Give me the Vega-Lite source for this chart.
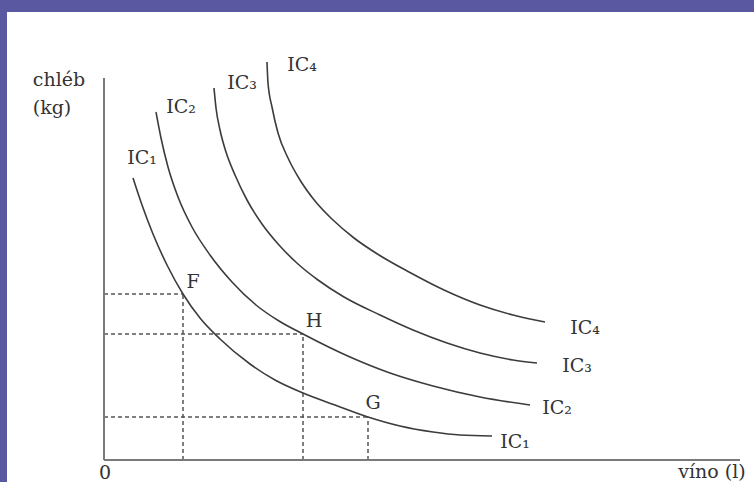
{
  "$schema": "https://vega.github.io/schema/vega-lite/v6.json",
  "width": 747,
  "height": 470,
  "autosize": "none",
  "padding": {"left": 7, "top": 12, "right": 0, "bottom": 0},
  "background": "#5a58a0",
  "config": {"view": {"fill": "#ffffff", "stroke": null}, "axis": {"disable": true}},
  "datasets": {
    "axes": [
      {"x": 0, "y": 0, "x2": 636, "y2": 0},
      {"x": 0, "y": 0, "x2": 0, "y2": 382}
    ],
    "guides": [
      {"point": "F", "x": 0, "y": 166, "x2": 79, "y2": 166},
      {"point": "F", "x": 79, "y": 0, "x2": 79, "y2": 166},
      {"point": "H", "x": 0, "y": 126, "x2": 199, "y2": 126},
      {"point": "H", "x": 199, "y": 0, "x2": 199, "y2": 126},
      {"point": "G", "x": 0, "y": 43, "x2": 264, "y2": 43},
      {"point": "G", "x": 264, "y": 0, "x2": 264, "y2": 43}
    ],
    "curves": [
      {"curve": "IC1", "x": 29, "y": 282}, {"curve": "IC1", "x": 38, "y": 255}, {"curve": "IC1", "x": 49, "y": 226},
      {"curve": "IC1", "x": 63, "y": 195}, {"curve": "IC1", "x": 79, "y": 166}, {"curve": "IC1", "x": 96, "y": 142},
      {"curve": "IC1", "x": 116, "y": 121}, {"curve": "IC1", "x": 146, "y": 96}, {"curve": "IC1", "x": 171, "y": 80},
      {"curve": "IC1", "x": 199, "y": 67}, {"curve": "IC1", "x": 231, "y": 55}, {"curve": "IC1", "x": 264, "y": 43},
      {"curve": "IC1", "x": 296, "y": 34}, {"curve": "IC1", "x": 329, "y": 28}, {"curve": "IC1", "x": 356, "y": 25},
      {"curve": "IC1", "x": 388, "y": 24},
      {"curve": "IC2", "x": 52, "y": 348}, {"curve": "IC2", "x": 57, "y": 322}, {"curve": "IC2", "x": 64, "y": 293},
      {"curve": "IC2", "x": 74, "y": 263}, {"curve": "IC2", "x": 88, "y": 233}, {"curve": "IC2", "x": 106, "y": 205},
      {"curve": "IC2", "x": 128, "y": 178}, {"curve": "IC2", "x": 152, "y": 155}, {"curve": "IC2", "x": 175, "y": 139},
      {"curve": "IC2", "x": 199, "y": 126}, {"curve": "IC2", "x": 246, "y": 103}, {"curve": "IC2", "x": 286, "y": 87},
      {"curve": "IC2", "x": 329, "y": 74}, {"curve": "IC2", "x": 376, "y": 63}, {"curve": "IC2", "x": 426, "y": 55},
      {"curve": "IC3", "x": 110, "y": 372}, {"curve": "IC3", "x": 112, "y": 352}, {"curve": "IC3", "x": 116, "y": 330},
      {"curve": "IC3", "x": 122, "y": 308}, {"curve": "IC3", "x": 131, "y": 285}, {"curve": "IC3", "x": 143, "y": 260},
      {"curve": "IC3", "x": 158, "y": 236}, {"curve": "IC3", "x": 175, "y": 215}, {"curve": "IC3", "x": 194, "y": 196},
      {"curve": "IC3", "x": 214, "y": 180}, {"curve": "IC3", "x": 240, "y": 163}, {"curve": "IC3", "x": 276, "y": 145},
      {"curve": "IC3", "x": 309, "y": 130}, {"curve": "IC3", "x": 343, "y": 117}, {"curve": "IC3", "x": 376, "y": 107},
      {"curve": "IC3", "x": 409, "y": 100}, {"curve": "IC3", "x": 433, "y": 97},
      {"curve": "IC4", "x": 163, "y": 398}, {"curve": "IC4", "x": 164, "y": 377}, {"curve": "IC4", "x": 168, "y": 353},
      {"curve": "IC4", "x": 174, "y": 327}, {"curve": "IC4", "x": 184, "y": 302}, {"curve": "IC4", "x": 196, "y": 280},
      {"curve": "IC4", "x": 211, "y": 259}, {"curve": "IC4", "x": 229, "y": 240}, {"curve": "IC4", "x": 250, "y": 222},
      {"curve": "IC4", "x": 275, "y": 205}, {"curve": "IC4", "x": 305, "y": 188}, {"curve": "IC4", "x": 340, "y": 170},
      {"curve": "IC4", "x": 376, "y": 155}, {"curve": "IC4", "x": 409, "y": 145}, {"curve": "IC4", "x": 441, "y": 138}
    ],
    "labels": [
      {"x": 38, "y": 302, "text": "IC₁"},
      {"x": 77, "y": 353, "text": "IC₂"},
      {"x": 138, "y": 377, "text": "IC₃"},
      {"x": 198, "y": 395, "text": "IC₄"},
      {"x": 481, "y": 132, "text": "IC₄"},
      {"x": 473, "y": 94, "text": "IC₃"},
      {"x": 453, "y": 52, "text": "IC₂"},
      {"x": 411, "y": 18, "text": "IC₁"},
      {"x": 89, "y": 178, "text": "F"},
      {"x": 210, "y": 139, "text": "H"},
      {"x": 269, "y": 57, "text": "G"},
      {"x": 1, "y": -13, "text": "0"},
      {"x": 608, "y": -12, "text": "víno (l)"},
      {"x": -45, "y": 380, "text": "chléb"},
      {"x": -52, "y": 352, "text": "(kg)"}
    ]
  },
  "encoding": {
    "x": {"field": "x", "type": "quantitative", "scale": {"domain": [-97, 650], "nice": false, "zero": false}},
    "y": {"field": "y", "type": "quantitative", "scale": {"domain": [-22, 448], "nice": false, "zero": false}}
  },
  "layer": [
    {
      "data": {"name": "guides"},
      "mark": {"type": "rule", "color": "#555555", "strokeWidth": 1.5, "strokeDash": [4, 3]},
      "encoding": {"x2": {"field": "x2"}, "y2": {"field": "y2"}}
    },
    {
      "data": {"name": "axes"},
      "mark": {"type": "rule", "color": "#7a7a7a", "strokeWidth": 2},
      "encoding": {"x2": {"field": "x2"}, "y2": {"field": "y2"}}
    },
    {
      "data": {"name": "curves"},
      "mark": {"type": "line", "color": "#3c3c3c", "strokeWidth": 1.6, "interpolate": "monotone"},
      "encoding": {"detail": {"field": "curve", "type": "nominal"}}
    },
    {
      "data": {"name": "labels"},
      "mark": {"type": "text", "font": "DejaVu Serif", "fontSize": 19, "color": "#333333", "align": "center", "baseline": "middle"},
      "encoding": {"text": {"field": "text", "type": "nominal"}}
    }
  ]
}
